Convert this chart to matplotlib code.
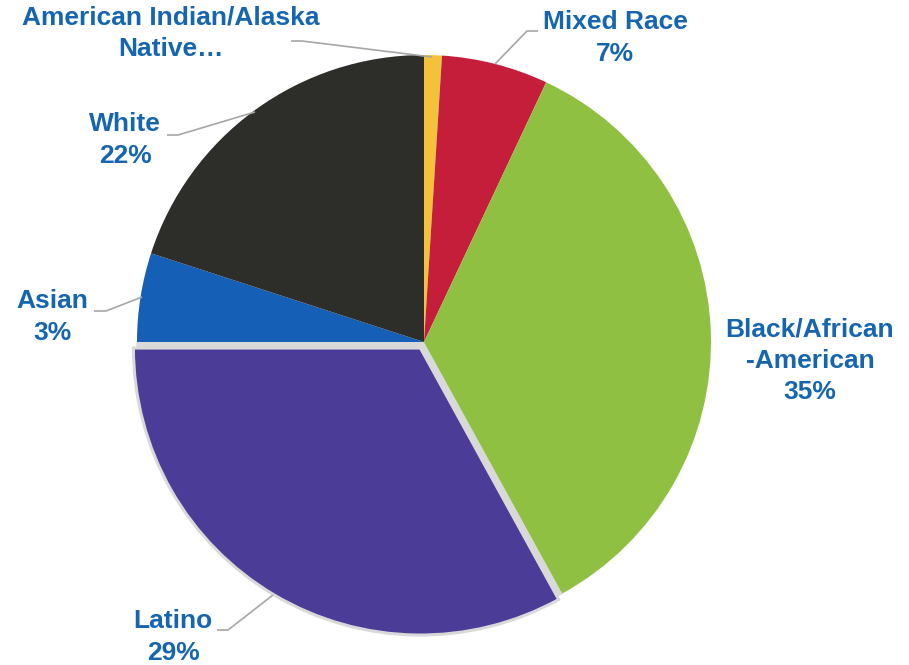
import matplotlib
matplotlib.use('Agg')
import matplotlib.pyplot as plt
from matplotlib.patches import Wedge

# slice sizes (start at top, clockwise)
groups = ['American Indian/Alaska Native', 'Mixed Race', 'Black/African-American',
          'Latino', 'Asian', 'White']
shares = [1, 6, 35, 33, 5, 20]
label_texts = ['American Indian/Alaska\nNative\u2026', 'Mixed Race\n7%',
               'Black/African\n-American\n35%', 'Latino\n29%', 'Asian\n3%', 'White\n22%']
colors = ['#f2c23a', '#c41e3a', '#8fc042', '#4a3c97', '#1560b6', '#2d2d29']

W, H = 909, 665
fig = plt.figure(figsize=(W / 100, H / 100), dpi=100)
ax = fig.add_axes([0, 0, 1, 1])

cx, cy, r = 424, H - 342, 287
# pie() offsets by explode in data units (here pixels)
explode = [0, 0, 0, 7, 0, 0]
wedges, _ = ax.pie(shares, colors=colors, startangle=90, counterclock=False,
                   center=(cx, cy), radius=r, explode=explode,
                   wedgeprops=dict(linewidth=0))
for w in wedges:
    w.set_zorder(1)
lat = wedges[3]
lat.set_edgecolor('#d9d9d9')
lat.set_linewidth(2.2)
lat.set_zorder(1.5)
# grey backing fills the gap left by the pulled-out slice
ax.add_patch(Wedge((cx, cy), r, lat.theta1, lat.theta2, color='#d9d9d9', zorder=0.8))

ax.set_xlim(0, W)
ax.set_ylim(0, H)
ax.set_aspect('equal')
ax.axis('off')

# label centres and leader lines, in pixel coordinates (y down)
label_pos = [(171, 33), (615, 38), (810, 361), (173, 637), (52, 317), (125, 140)]
leaders = [
    [(291, 41), (302, 41), (432, 57)],
    [(538, 31), (527, 31), (495, 64)],
    None,
    [(217, 630), (228, 630), (273, 595)],
    [(94, 311), (106, 311), (142, 297)],
    [(167, 135), (178, 135), (255, 112)],
]

for txt, (x, y), pts in zip(label_texts, label_pos, leaders):
    ax.text(x, H - y, txt, ha='center', va='center', fontsize=19,
            fontweight='bold', color='#1565b0', family='Liberation Sans',
            linespacing=1.38, zorder=3)
    if pts:
        ax.plot([p[0] for p in pts], [H - p[1] for p in pts], color='#a6a6a6',
                lw=1.2, zorder=2, solid_capstyle='butt')

fig.savefig('out.png', dpi=100)
